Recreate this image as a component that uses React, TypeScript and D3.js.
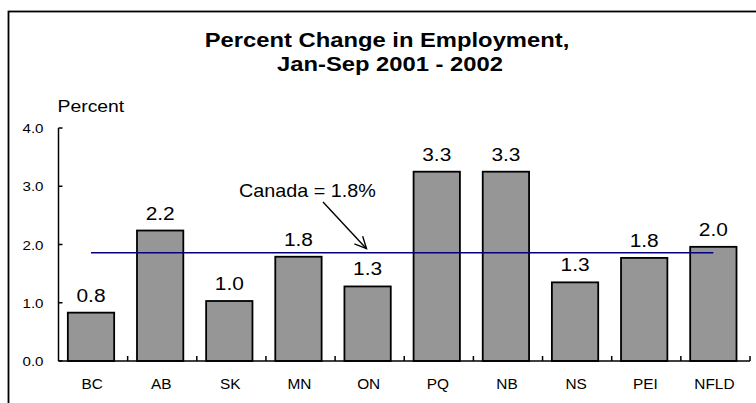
import React from "react";
import * as d3 from "d3";

const categories = ["BC", "AB", "SK", "MN", "ON", "PQ", "NB", "NS", "PEI", "NFLD"];
const values = [0.83, 2.24, 1.03, 1.79, 1.28, 3.25, 3.25, 1.35, 1.77, 1.96];
const valueLabels = ["0.8", "2.2", "1.0", "1.8", "1.3", "3.3", "3.3", "1.3", "1.8", "2.0"];
const yTicks = [0, 1, 2, 3, 4];
const canadaValue = 1.86;
const canadaLabel = "Canada = 1.8%";
const titleLines = ["Percent Change in Employment,", "Jan-Sep 2001 - 2002"];
const yLabel = "Percent";

const width = 756;
const height = 403;
const margin = { top: 128, right: 6, bottom: 42, left: 58.5 };
const font = "Arial, 'Liberation Sans', sans-serif";

// text in the original is a bit wider than Arial, so stretch it horizontally
const T = (props: {
    x: number;
    y: number;
    size: number;
    sx?: number;
    anchor?: string;
    bold?: boolean;
    children: string;
}) => (
    <text
        transform={`translate(${props.x},${props.y}) scale(${props.sx ?? 1.1},1)`}
        fontSize={props.size}
        fontFamily={font}
        fontWeight={props.bold ? "bold" : "normal"}
        textAnchor={props.anchor ?? "start"}
        fill="#000"
    >
        {props.children}
    </text>
);

const App = (): JSX.Element => {
    const x = d3
        .scaleBand()
        .domain(categories)
        .range([margin.left, width - margin.right])
        .padding(0);
    const y = d3
        .scaleLinear()
        .domain([0, 4])
        .range([height - margin.bottom, margin.top]);
    const bw = x.bandwidth();
    const barX = (c: string) => (x(c) as number) + bw * 0.135;
    const barW = bw * 0.67;
    const barC = (c: string) => barX(c) + barW / 2;

    const y0 = y(0);
    const boundaries = categories.map((c) => (x(c) as number) + bw);
    const cy = y(canadaValue);

    // arrow from label down to the Canada line
    const ax1 = 323;
    const ay1 = 202;
    const ax2 = 366.5;
    const ay2 = cy - 4;
    const ang = Math.atan2(ay2 - ay1, ax2 - ax1);
    const headLen = 13;
    const headAng = 0.45;
    const h1 = [ax2 - headLen * Math.cos(ang - headAng), ay2 - headLen * Math.sin(ang - headAng)];
    const h2 = [ax2 - headLen * Math.cos(ang + headAng), ay2 - headLen * Math.sin(ang + headAng)];

    return (
        <svg
            width={width}
            height={height}
            style={{ position: "absolute", left: 0, top: 0, background: "#fff" }}
        >
            <rect x={8.5} y={11.5} width={800} height={450} fill="#fff" stroke="#000" strokeWidth={1.8} />

            <T x={387} y={47} size={20.5} sx={1.16} anchor="middle" bold>
                {titleLines[0]}
            </T>
            <T x={390} y={70.5} size={20.5} sx={1.16} anchor="middle" bold>
                {titleLines[1]}
            </T>
            <T x={57.5} y={111.5} size={17} sx={1.14}>
                {yLabel}
            </T>

            {/* bars */}
            {categories.map((c, i) => (
                <rect
                    key={c}
                    x={barX(c)}
                    y={y(values[i])}
                    width={barW}
                    height={y0 - y(values[i])}
                    fill="#969696"
                    stroke="#000"
                    strokeWidth={1.8}
                />
            ))}

            {/* y axis */}
            <line x1={margin.left} x2={margin.left} y1={y(4)} y2={y0} stroke="#000" strokeWidth={1.5} />
            {yTicks.map((t) => (
                <g key={t}>
                    <line x1={margin.left} x2={margin.left + 4} y1={y(t)} y2={y(t)} stroke="#000" strokeWidth={1.5} />
                    <T x={43.5} y={y(t) + 5} size={13.5} sx={1.12} anchor="end">
                        {t.toFixed(1)}
                    </T>
                </g>
            ))}

            {/* x axis */}
            <line x1={margin.left} x2={width - margin.right} y1={y0} y2={y0} stroke="#000" strokeWidth={1.5} />
            {boundaries.map((b, i) => (
                <line key={i} x1={b} x2={b} y1={y0} y2={y0 - 5} stroke="#000" strokeWidth={1.5} />
            ))}
            {categories.map((c) => (
                <T key={c} x={(x(c) as number) + bw / 2 - 1} y={388.5} size={14} sx={1.1} anchor="middle">
                    {c}
                </T>
            ))}

            {/* value labels */}
            {categories.map((c, i) => (
                <T key={c} x={barC(c)} y={y(values[i]) - 11} size={19} sx={1.1} anchor="middle">
                    {valueLabels[i]}
                </T>
            ))}

            {/* Canada average line */}
            <line
                x1={barC(categories[0])}
                x2={barC(categories[categories.length - 1])}
                y1={cy}
                y2={cy}
                stroke="#000080"
                strokeWidth={1.5}
            />
            <T x={239} y={196.5} size={19} sx={1.04}>
                {canadaLabel}
            </T>
            <line x1={ax1} y1={ay1} x2={ax2} y2={ay2} stroke="#000" strokeWidth={1.4} />
            <polyline
                points={`${h1[0]},${h1[1]} ${ax2},${ay2} ${h2[0]},${h2[1]}`}
                fill="none"
                stroke="#000"
                strokeWidth={1.4}
            />
        </svg>
    );
};

export default App;
